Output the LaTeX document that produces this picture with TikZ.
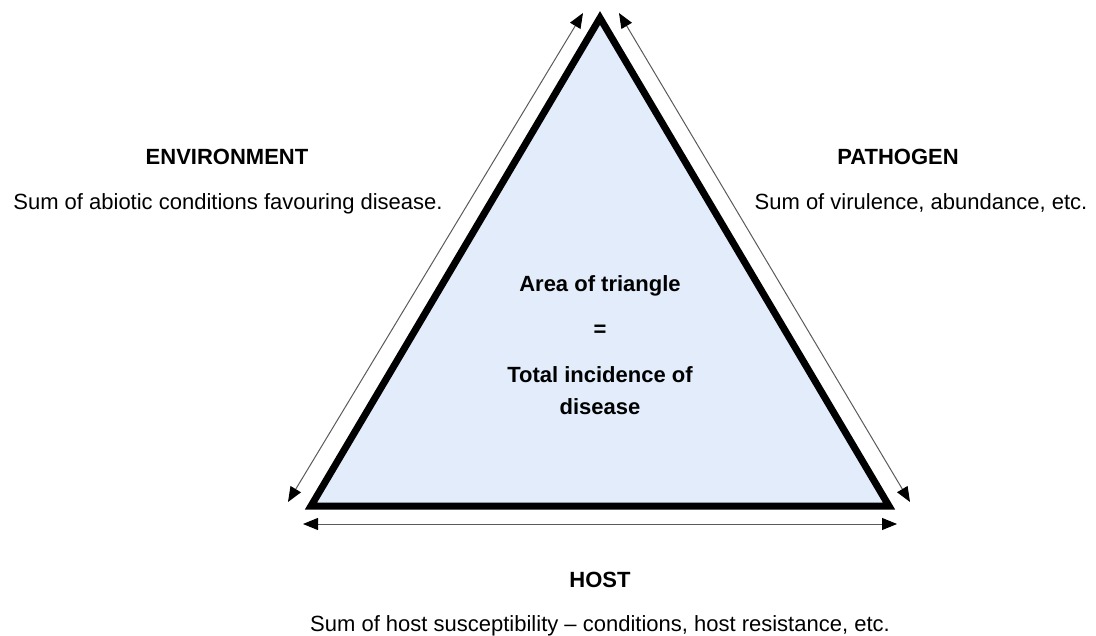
\documentclass[tikz,border=0pt]{standalone}
\usepackage{fontspec}
\setmainfont{Liberation Sans}
\usetikzlibrary{arrows.meta}
\definecolor{trifill}{RGB}{226,236,251}
\definecolor{arrowline}{RGB}{90,90,90}
\tikzset{headtip/.tip={Triangle[length=15pt,width=12pt,fill=black,color=black]}}
\begin{document}
\begin{tikzpicture}[x=1pt,y=-1pt,
  title/.style={font=\fontsize{22}{26}\selectfont\bfseries, inner sep=0pt, anchor=base},
  desc/.style={font=\fontsize{22}{26}\selectfont, inner sep=0pt, anchor=base},
  sidearrow/.style={draw=arrowline, line width=1pt, headtip-headtip}]
  \useasboundingbox (0,0) rectangle (1096,636);
  % triangle vertices
  \coordinate (top) at (600,18);
  \coordinate (bl) at (311,506);
  \coordinate (br) at (889,506);
  \fill[trifill] (top) -- (br) -- (bl) -- cycle;
  \draw[line width=7pt, miter limit=10] (top) -- (br) -- (bl) -- cycle;
  % side arrows
  \coordinate (envtop) at (583,13);
  \coordinate (envbot) at (288,502);
  \coordinate (pathtop) at (619,13);
  \coordinate (pathbot) at (910,502);
  \coordinate (hostl) at (303,524);
  \coordinate (hostr) at (897,524);
  \draw[sidearrow] (envbot) -- (envtop);
  \draw[sidearrow] (pathbot) -- (pathtop);
  \draw[sidearrow] (hostl) -- (hostr);
  % labels
  \node[title] (envt) at (227,165) {ENVIRONMENT};
  \node[desc] (envd) at (228,210) {Sum of abiotic conditions favouring disease.};
  \node[title] (patt) at (898,165) {PATHOGEN};
  \node[desc] (patd) at (921,210) {Sum of virulence, abundance, etc.};
  \node[title] (area) at (600,292) {Area of triangle};
  \node[title] (eq) at (600,337) {=};
  \node[title] (tot) at (600,383) {Total incidence of};
  \node[title] (dis) at (600,415) {disease};
  \node[title] (hostt) at (600,587) {HOST};
  \node[desc] (hostd) at (600,631) {Sum of host susceptibility -- conditions, host resistance, etc.};
\end{tikzpicture}
\end{document}
